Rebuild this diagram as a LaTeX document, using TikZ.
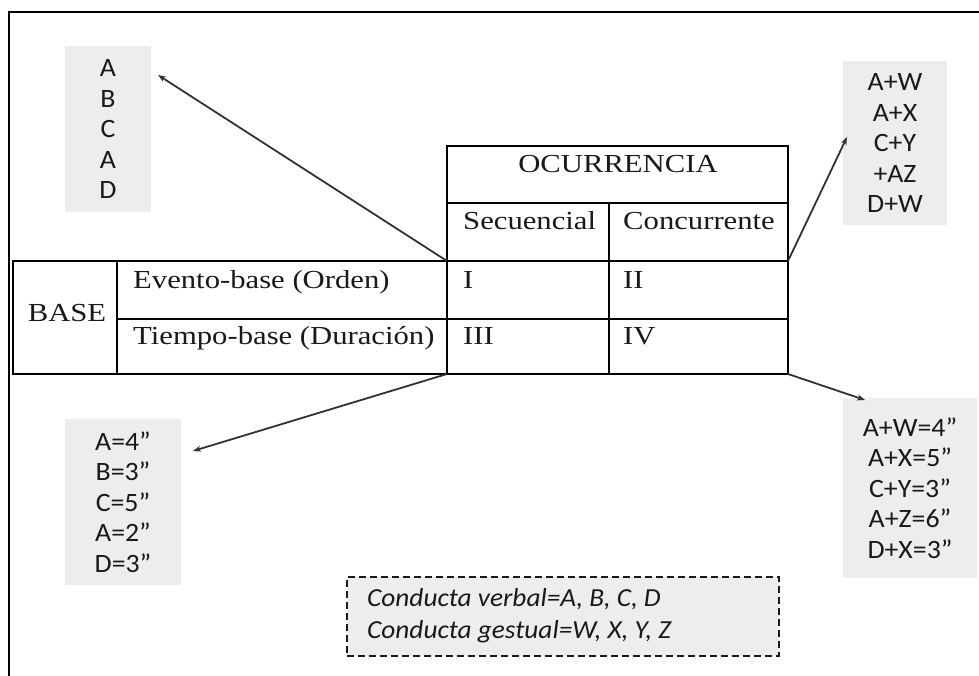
\documentclass[tikz,border=0pt]{standalone}
\usepackage{fontspec}
\setmainfont[FakeStretch=1.18]{Liberation Serif}
\newfontfamily\boxfont[FakeStretch=1.05]{Carlito}
\usetikzlibrary{arrows.meta,fit}
\definecolor{boxgray}{RGB}{237,237,237}
\definecolor{ink}{RGB}{25,25,25}
\definecolor{linkgray}{RGB}{50,50,50}
\begin{document}
\begin{tikzpicture}[x=1pt,y=-1pt,
  cell/.style={draw=black, line width=2pt, inner sep=0pt, outer sep=0pt},
  celltext/.style={inner sep=0pt, anchor=base west, text=ink, font=\fontsize{26}{30}\selectfont},
  graybox/.style={fill=boxgray, inner sep=0pt, align=center, text=ink, font=\boxfont\fontsize{26.5}{30.5}\selectfont},
  link/.style={draw=linkgray, line width=1.8pt, -{Stealth[length=8pt,width=6pt]}}
]
\useasboundingbox (0,0) rectangle (979,676);
\draw[line width=2pt] (9,676) -- (9,12.5) -- (979,12.5);

% table cells
\node[cell, fit={(447,146.5) (788,203)}] (ocu) {};
\node[cell, fit={(447,203) (609,261)}] (sec) {};
\node[cell, fit={(609,203) (788,261)}] (con) {};
\node[cell, fit={(12.5,261) (117,374)}] (base) {};
\node[cell, fit={(117,261) (447,319)}] (ev) {};
\node[cell, fit={(117,319) (447,374)}] (ti) {};
\node[cell, fit={(447,261) (609,319)}] (c1) {};
\node[cell, fit={(609,261) (788,319)}] (c2) {};
\node[cell, fit={(447,319) (609,374)}] (c3) {};
\node[cell, fit={(609,319) (788,374)}] (c4) {};

% table texts
\node[celltext, anchor=base] (tocu) at (618,173) {OCURRENCIA};
\node[celltext] (tsec) at (463,230) {Secuencial};
\node[celltext] (tcon) at (623,230) {Concurrente};
\node[celltext] (tev) at (133,288) {Evento-base (Orden)};
\node[celltext] (tc1) at (463,288) {I};
\node[celltext] (tc2) at (623,288) {II};
\node[celltext] (tti) at (133,344) {Tiempo-base (Duración)};
\node[celltext] (tc3) at (463,344) {III};
\node[celltext] (tc4) at (623,344) {IV};
\node[celltext, anchor=base] (tbase) at (67,321.5) {BASE};

% gray boxes
\node[graybox, minimum width=86pt, minimum height=166pt] (seq) at (108,129) {A\\B\\C\\A\\D};
\node[graybox, minimum width=104pt, minimum height=164pt] (conc) at (895,143) {A+W\\A+X\\C+Y\\+AZ\\D+W};
\node[graybox, minimum width=116pt, minimum height=166pt] (dur) at (123,502) {A=4”\\B=3”\\C=5”\\A=2”\\D=3”};
\node[graybox, minimum width=134pt, minimum height=180pt] (durc) at (910,488) {A+W=4”\\A+X=5”\\C+Y=3”\\A+Z=6”\\D+X=3”};

% legend
\node[fit={(347,577) (779,656)}, draw=ink, dash pattern=on 7pt off 4pt, fill=boxgray, line width=1.4pt, inner sep=0pt] (legend) {};
\node[inner sep=0pt, anchor=west, align=left, text=ink, font=\boxfont\itshape\fontsize{26}{32}\selectfont] (tlegend) at (367,616) {Conducta verbal=A, B, C, D\\Conducta gestual=W, X, Y, Z};

% connectors
\coordinate (e1) at (158,75);
\coordinate (e2) at (847,137);
\coordinate (e3) at (193,451);
\coordinate (e4) at (865,400);
\draw[link] (c1.north west) -- (e1);
\draw[link] (con.south east) -- (e2);
\draw[link] (c3.south west) -- (e3);
\draw[link] (c4.south east) -- (e4);
\end{tikzpicture}
\end{document}
